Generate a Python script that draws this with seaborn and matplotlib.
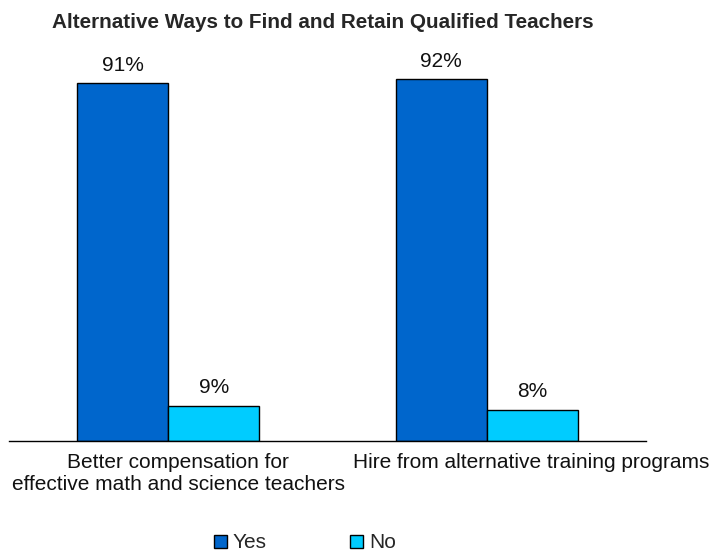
import matplotlib
matplotlib.use("Agg")
import matplotlib.pyplot as plt
import matplotlib.transforms as mtransforms
import seaborn as sns
import pandas as pd

categories = ["Better compensation for\neffective math and science teachers",
              "Hire from alternative training programs"]
responses = ["Yes", "No"]
yes_values = [91, 92]
no_values = [9, 8]
colors = {"Yes": "#0066CC", "No": "#00CCFF"}

df = pd.DataFrame({
    "category": categories * 2,
    "response": ["Yes"] * len(categories) + ["No"] * len(categories),
    "value": yes_values + no_values,
})

sns.set_style("white")
plt.rcParams["font.family"] = ["Liberation Sans", "DejaVu Sans"]

fig = plt.figure(figsize=(7.25, 5.53), dpi=100)
ax = fig.add_axes([9 / 725, 1 - 441 / 553, 637 / 725, 393 / 553])

sns.barplot(data=df, x="category", y="value", hue="response",
            hue_order=responses, palette=colors, width=0.57,
            edgecolor="black", linewidth=1, saturation=1, ax=ax,
            legend=False)

for container in ax.containers:
    labels = [f"{v:.0f}%" for v in container.datavalues]
    ax.bar_label(container, labels=labels, padding=6, fontsize=15,
                 color="#111111")

ax.set_xlim(-0.5, 1.5)
ax.set_ylim(0, 100)
ax.set_xlabel("")
ax.set_ylabel("")
ax.set_yticks([])
ax.tick_params(axis="x", length=0, pad=9, labelsize=15, labelcolor="#111111")
for side in ["left", "right", "top"]:
    ax.spines[side].set_visible(False)
ax.spines["bottom"].set_color("black")
ax.spines["bottom"].set_linewidth(1)

# nudge the category labels sideways so the long second one stays in view
shifts = [10, 44]
for lbl, dx in zip(ax.get_xticklabels(), shifts):
    lbl.set_linespacing(1.2)
    lbl.set_transform(lbl.get_transform() +
                      mtransforms.ScaledTranslation(dx / 100, 0, fig.dpi_scale_trans))

fig.text(52 / 725, 1 - 22 / 553, "Alternative Ways to Find and Retain Qualified Teachers",
         fontsize=14.9, fontweight="bold", ha="left", va="center")

handles = [plt.Rectangle((0, 0), 1, 1, facecolor=colors[r], edgecolor="black",
                         linewidth=1) for r in responses]
fig.legend(handles, responses, loc="center", bbox_to_anchor=(305 / 725, 1 - 543 / 553),
           ncol=2, frameon=False, fontsize=15, handlelength=0.6, handleheight=0.6,
           handletextpad=0.3, columnspacing=4.0, borderpad=0)

fig.savefig("out.png", dpi=100)
